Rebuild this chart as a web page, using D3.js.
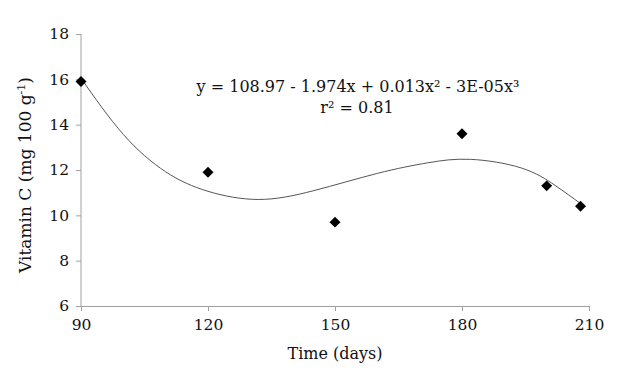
<!DOCTYPE html>
<html>
<head>
<meta charset="utf-8">
<script src="https://cdn.jsdelivr.net/npm/d3@7"></script>
<style>
  body { margin: 0; background: #fff; }
  text { font-family: "DejaVu Serif", "Liberation Serif", serif; fill: #111; }
</style>
</head>
<body>
<svg id="chart"></svg>
<script>
// measured points
var days = [90, 120, 150, 180, 200, 208]
var vitC = [15.9, 11.9, 9.7, 13.6, 11.3, 10.4]

// trend line
var fitX = [90, 100, 110, 120, 132, 145, 160, 172, 182, 194, 202, 208]
var fitY = [16.05, 13.57, 11.92, 11.06, 10.7, 11.09, 11.85, 12.32, 12.47, 12.09, 11.32, 10.52]

var xTicks = [90, 120, 150, 180, 210]
var yTicks = [6, 8, 10, 12, 14, 16, 18]

var W = 630, H = 378
var margin = {left: 81, right: 41, top: 34, bottom: 72}

var svg = d3.select("#chart")
    .attr("width", W)
    .attr("height", H)

var x = d3.scaleLinear().domain([90, 210]).range([margin.left, W - margin.right])
var y = d3.scaleLinear().domain([6, 18]).range([H - margin.bottom, margin.top])

var xAxis = svg.append("g")
    .attr("transform", "translate(0," + y(6) + ")")
    .call(d3.axisBottom(x).tickValues(xTicks).tickSize(5).tickPadding(8).tickFormat(d3.format("d")))
var yAxis = svg.append("g")
    .attr("transform", "translate(" + x(90) + ",0)")
    .call(d3.axisLeft(y).tickValues(yTicks).tickSize(5).tickPadding(7).tickFormat(d3.format("d")))

svg.selectAll(".domain, .tick line").attr("stroke", "#a0a0a0")
svg.selectAll(".tick text")
    .style("font-family", "DejaVu Serif, serif")
    .style("font-size", "15.5px")
    .attr("fill", "#111")
yAxis.selectAll(".domain").attr("d", "M0," + y(6) + "V" + y(18))

// trend line
var fit = fitX.map(function (d, i) { return [d, fitY[i]] })
svg.append("path")
    .datum(fit)
    .attr("fill", "none")
    .attr("stroke", "#555")
    .attr("stroke-width", 1)
    .attr("d", d3.line().x(d => x(d[0])).y(d => y(d[1])).curve(d3.curveNatural))

// points
var pts = days.map(function (d, i) { return {t: d, v: vitC[i]} })
svg.selectAll(".pt")
    .data(pts)
    .enter().append("path")
    .attr("class", "pt")
    .attr("d", d3.symbol().type(d3.symbolSquare).size(60))
    .attr("transform", d => "translate(" + x(d.t) + "," + y(d.v) + ") rotate(45)")
    .attr("fill", "#000")

// equation
svg.append("text")
    .attr("x", 358).attr("y", 92)
    .attr("text-anchor", "middle")
    .style("font-size", "16px")
    .text("y = 108.97 - 1.974x + 0.013x² - 3E-05x³")
svg.append("text")
    .attr("x", 357).attr("y", 113)
    .attr("text-anchor", "middle")
    .style("font-size", "16px")
    .text("r² = 0.81")

// axis titles
svg.append("text")
    .attr("x", (x(90) + x(210)) / 2).attr("y", 359)
    .attr("text-anchor", "middle")
    .style("font-size", "16px")
    .text("Time (days)")
var yt = svg.append("text")
    .attr("transform", "translate(31," + ((y(6) + y(18)) / 2 + 5) + ") rotate(-90)")
    .attr("text-anchor", "middle")
    .style("font-size", "17px")
yt.append("tspan").text("Vitamin C (mg 100 g")
yt.append("tspan").attr("dy", -6).style("font-size", "11px").text("-1")
yt.append("tspan").attr("dy", 6).text(")")
</script>
</body>
</html>
